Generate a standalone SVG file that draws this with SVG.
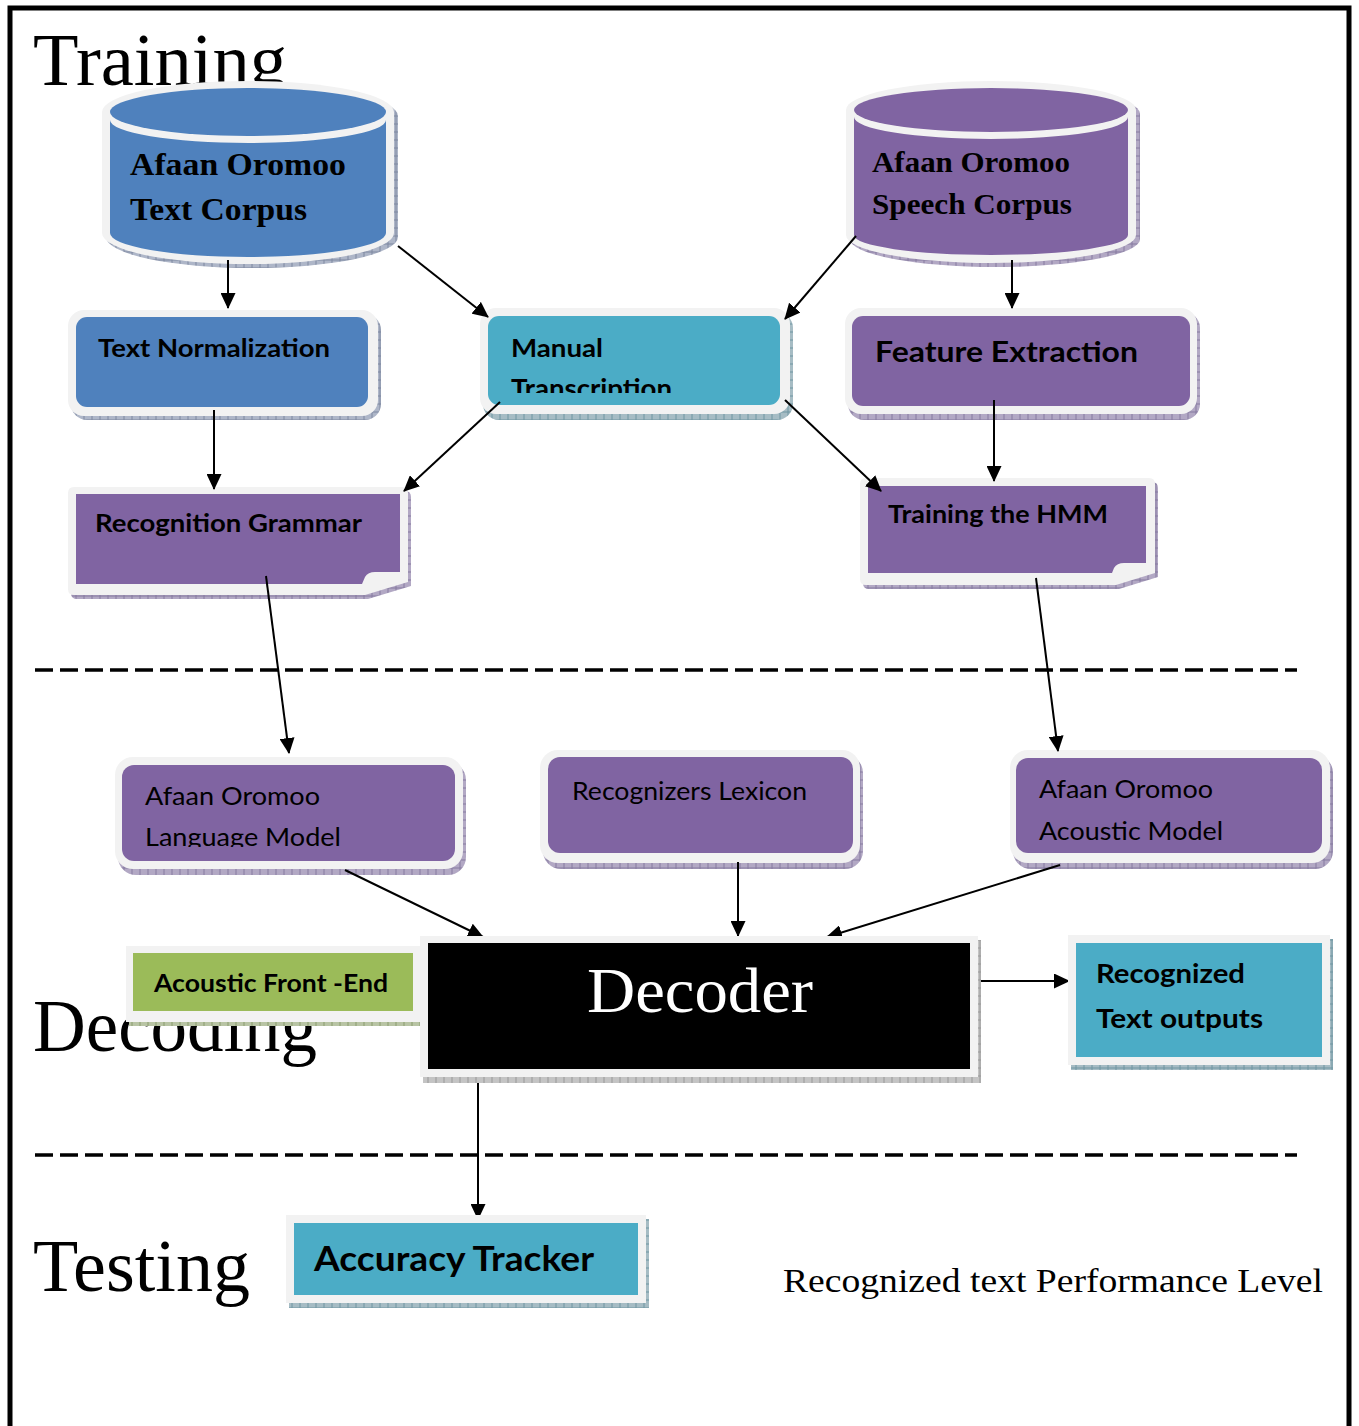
<svg xmlns="http://www.w3.org/2000/svg" width="1359" height="1426" viewBox="0 0 1359 1426">
<style>
.lbl{font-family:"Liberation Serif","Times New Roman",serif;fill:#000}
.cyl{font-family:"Liberation Serif","Times New Roman",serif;font-weight:bold;fill:#000}
.sb{font-family:Lato,"Liberation Sans",Arial,sans-serif;font-weight:bold;fill:#000}
.sr{font-family:Lato,"Liberation Sans",Arial,sans-serif;font-weight:normal;fill:#000}
.light{fill:#f2f2f2}
.blue{fill:#4f81bd}
.purple{fill:#8064a2}
.teal{fill:#4bacc6}
.green{fill:#9bbb59}
.conn{stroke:#000;stroke-width:2;fill:none;marker-end:url(#ah)}
.dash{stroke:#000;stroke-width:3.5;stroke-dasharray:18 7;fill:none}
</style>
<defs>
<marker id="ah" markerUnits="userSpaceOnUse" markerWidth="17" markerHeight="15" refX="15" refY="7.5" orient="auto">
<path d="M0,0 L16,7.5 L0,15 Z" fill="#000"/>
</marker>
<pattern id="hb" width="8" height="8" patternUnits="userSpaceOnUse">
<rect width="8" height="8" fill="#aeb6c8"/><path d="M0,4H8M4,0V8" stroke="#7d88a0" stroke-width="1"/>
</pattern>
<pattern id="hp" width="8" height="8" patternUnits="userSpaceOnUse">
<rect width="8" height="8" fill="#b2a8c4"/><path d="M0,4H8M4,0V8" stroke="#877aa0" stroke-width="1"/>
</pattern>
<pattern id="ht" width="8" height="8" patternUnits="userSpaceOnUse">
<rect width="8" height="8" fill="#a6bcc4"/><path d="M0,4H8M4,0V8" stroke="#6f96a2" stroke-width="1"/>
</pattern>
<pattern id="hg" width="8" height="8" patternUnits="userSpaceOnUse">
<rect width="8" height="8" fill="#b8c4a4"/><path d="M0,4H8M4,0V8" stroke="#8a9c6e" stroke-width="1"/>
</pattern>
<pattern id="hk" width="8" height="8" patternUnits="userSpaceOnUse">
<rect width="8" height="8" fill="#c4c4c4"/><path d="M0,4H8M4,0V8" stroke="#999" stroke-width="1"/>
</pattern>
<clipPath id="clipMT"><rect x="488" y="316" width="292" height="77"/></clipPath>
<clipPath id="clipLM"><rect x="122" y="765" width="333" height="82"/></clipPath>
</defs>

<rect x="0" y="0" width="1359" height="1426" fill="#fff"/>
<rect x="10" y="8" width="1339" height="1440" fill="none" stroke="#000" stroke-width="5"/>

<text class="lbl" x="33" y="85" font-size="74" textLength="254" lengthAdjust="spacingAndGlyphs">Training</text>
<text class="lbl" x="33" y="1051" font-size="74" textLength="284" lengthAdjust="spacingAndGlyphs">Decoding</text>
<text class="lbl" x="33" y="1291" font-size="74" textLength="217" lengthAdjust="spacingAndGlyphs">Testing</text>
<text class="lbl" x="783" y="1292" font-size="33" textLength="540" lengthAdjust="spacingAndGlyphs">Recognized text Performance Level</text>

<path class="dash" d="M35,670 H1297"/>
<path class="dash" d="M35,1155 H1297"/>

<g id="text-corpus">
<path d="M106,116 A146,31 0 0 1 398,116 L398,237 A146,31 0 0 1 106,237 Z" fill="url(#hb)"/>
<path class="light" d="M102,112 A146,31 0 0 1 394,112 L394,233 A146,31 0 0 1 102,233 Z"/>
<path class="blue" d="M110,120 A138,23 0 0 0 386,120 L386,233 A138,24 0 0 1 110,233 Z"/>
<ellipse class="blue" cx="248" cy="112" rx="138" ry="24"/>
<text class="cyl" x="130" y="175" font-size="31" textLength="216" lengthAdjust="spacingAndGlyphs">Afaan Oromoo</text>
<text class="cyl" x="130" y="220" font-size="31" textLength="177" lengthAdjust="spacingAndGlyphs">Text Corpus</text>
</g>

<g id="speech-corpus">
<path d="M850,114 A145,29 0 0 1 1140,114 L1140,239 A145,28 0 0 1 850,239 Z" fill="url(#hp)"/>
<path class="light" d="M846,110 A145,29 0 0 1 1136,110 L1136,235 A145,28 0 0 1 846,235 Z"/>
<path class="purple" d="M854,117 A137,22 0 0 0 1128,117 L1128,235 A137,20 0 0 1 854,235 Z"/>
<ellipse class="purple" cx="991" cy="110" rx="137" ry="22"/>
<text class="cyl" x="872" y="172" font-size="29" textLength="198" lengthAdjust="spacingAndGlyphs">Afaan Oromoo</text>
<text class="cyl" x="872" y="214" font-size="29" textLength="200" lengthAdjust="spacingAndGlyphs">Speech Corpus</text>
</g>

<g id="text-normalization">
<rect x="71" y="314" width="310" height="106" rx="16" fill="url(#hb)"/>
<rect class="light" x="68" y="310" width="310" height="106" rx="16"/>
<rect class="blue" x="76" y="317" width="292" height="90" rx="11"/>
<text class="sb" x="98" y="357" font-size="25" textLength="232" lengthAdjust="spacingAndGlyphs">Text Normalization</text>
</g>

<g id="manual-transcription">
<rect x="483" y="312" width="310" height="108" rx="16" fill="url(#ht)"/>
<rect class="light" x="480" y="308" width="310" height="106" rx="16"/>
<rect class="teal" x="488" y="316" width="292" height="89" rx="11"/>
<g clip-path="url(#clipMT)">
<text class="sb" x="511" y="357" font-size="25" textLength="92" lengthAdjust="spacingAndGlyphs">Manual</text>
<text class="sb" x="511" y="398" font-size="26" textLength="161" lengthAdjust="spacingAndGlyphs">Transcription</text>
</g>
</g>

<g id="feature-extraction">
<rect x="848" y="312" width="352" height="108" rx="16" fill="url(#hp)"/>
<rect class="light" x="845" y="308" width="352" height="106" rx="16"/>
<rect class="purple" x="852" y="316" width="338" height="90" rx="11"/>
<text class="sb" x="875" y="362" font-size="29" textLength="263" lengthAdjust="spacingAndGlyphs">Feature Extraction</text>
</g>

<g id="recognition-grammar">
<path d="M74,491 H405 Q411,491 411,497 V586 L368,599 H77 Q71,599 71,593 V497 Q71,491 77,491 Z" fill="url(#hp)"/>
<path class="light" d="M74,487 H402 Q408,487 408,493 V582 L365,595 H74 Q68,595 68,589 V493 Q68,487 74,487 Z"/>
<path class="purple" d="M76,494 H400 V572 H375 Q368,572 365,577 L362,584 H76 Z"/>
<text class="sb" x="95" y="532" font-size="25" textLength="267" lengthAdjust="spacingAndGlyphs">Recognition Grammar</text>
</g>

<g id="training-hmm">
<path d="M866,482 H1152 Q1158,482 1158,488 V577 L1119,589 H869 Q863,589 863,583 V488 Q863,482 869,482 Z" fill="url(#hp)"/>
<path class="light" d="M866,478 H1149 Q1155,478 1155,484 V573 L1116,585 H866 Q860,585 860,579 V484 Q860,478 866,478 Z"/>
<path class="purple" d="M868,486 H1146 V563 H1124 Q1117,563 1114,568 L1112,573 H868 Z"/>
<text class="sb" x="888" y="523" font-size="25" textLength="220" lengthAdjust="spacingAndGlyphs">Training the HMM</text>
</g>

<g id="language-model">
<rect x="118" y="762" width="348" height="113" rx="18" fill="url(#hp)"/>
<rect class="light" x="115" y="757" width="348" height="112" rx="18"/>
<rect class="purple" x="122" y="765" width="333" height="96" rx="12"/>
<g clip-path="url(#clipLM)">
<text class="sr" x="145" y="805" font-size="25" textLength="175" lengthAdjust="spacingAndGlyphs">Afaan Oromoo</text>
<text class="sr" x="145" y="846" font-size="25" textLength="196" lengthAdjust="spacingAndGlyphs">Language Model</text>
</g>
</g>

<g id="recognizers-lexicon">
<rect x="543" y="755" width="320" height="114" rx="18" fill="url(#hp)"/>
<rect class="light" x="540" y="750" width="320" height="113" rx="18"/>
<rect class="purple" x="548" y="757" width="305" height="96" rx="12"/>
<text class="sr" x="572" y="800" font-size="25" textLength="235" lengthAdjust="spacingAndGlyphs">Recognizers Lexicon</text>
</g>

<g id="acoustic-model">
<rect x="1013" y="755" width="320" height="114" rx="18" fill="url(#hp)"/>
<rect class="light" x="1010" y="750" width="320" height="113" rx="18"/>
<rect class="purple" x="1016" y="758" width="306" height="95" rx="12"/>
<text class="sr" x="1039" y="798" font-size="25" textLength="174" lengthAdjust="spacingAndGlyphs">Afaan Oromoo</text>
<text class="sr" x="1039" y="840" font-size="25" textLength="184" lengthAdjust="spacingAndGlyphs">Acoustic Model</text>
</g>

<g id="connectors">
<path class="conn" d="M228,260 V308"/>
<path class="conn" d="M398,246 L488,317"/>
<path class="conn" d="M856,236 L785,319"/>
<path class="conn" d="M1012,260 V308"/>
<path class="conn" d="M214,410 V489"/>
<path class="conn" d="M500,402 L404,491"/>
<path class="conn" d="M785,400 L881,491"/>
<path class="conn" d="M994,400 V481"/>
<path class="conn" d="M266,576 L289,753"/>
<path class="conn" d="M1036,578 L1058,751"/>
<path class="conn" d="M345,870 L483,937"/>
<path class="conn" d="M738,862 V936"/>
<path class="conn" d="M1060,865 L827,937"/>
<path class="conn" d="M980,981 H1069"/>
<path class="conn" d="M478,1073 V1219"/>
</g>

<g id="acoustic-front-end">
<rect x="129" y="950" width="294" height="76" fill="url(#hg)"/>
<rect class="light" x="126" y="946" width="294" height="76"/>
<rect class="green" x="133" y="953" width="280" height="58"/>
<text class="sb" x="154" y="992" font-size="25" textLength="234" lengthAdjust="spacingAndGlyphs">Acoustic Front -End</text>
</g>

<g id="decoder">
<rect x="423" y="940" width="558" height="143" fill="url(#hk)"/>
<rect class="light" x="420" y="936" width="558" height="141"/>
<rect x="428" y="943" width="542" height="126" fill="#000"/>
<text x="700" y="1012" font-size="64" text-anchor="middle" font-family="Liberation Serif,Times New Roman,serif" fill="#fff" textLength="226" lengthAdjust="spacingAndGlyphs">Decoder</text>
</g>

<g id="recognized-text-outputs">
<rect x="1071" y="939" width="262" height="131" fill="url(#ht)"/>
<rect class="light" x="1068" y="935" width="262" height="130"/>
<rect class="teal" x="1076" y="943" width="246" height="114"/>
<text class="sb" x="1096" y="983" font-size="27" textLength="149" lengthAdjust="spacingAndGlyphs">Recognized</text>
<text class="sb" x="1096" y="1028" font-size="27" textLength="167" lengthAdjust="spacingAndGlyphs">Text outputs</text>
</g>

<g id="accuracy-tracker">
<rect x="289" y="1219" width="360" height="89" fill="url(#ht)"/>
<rect class="light" x="286" y="1215" width="360" height="88"/>
<rect class="teal" x="294" y="1223" width="344" height="72"/>
<text class="sb" x="314" y="1271" font-size="35" textLength="280" lengthAdjust="spacingAndGlyphs">Accuracy Tracker</text>
</g>
</svg>
